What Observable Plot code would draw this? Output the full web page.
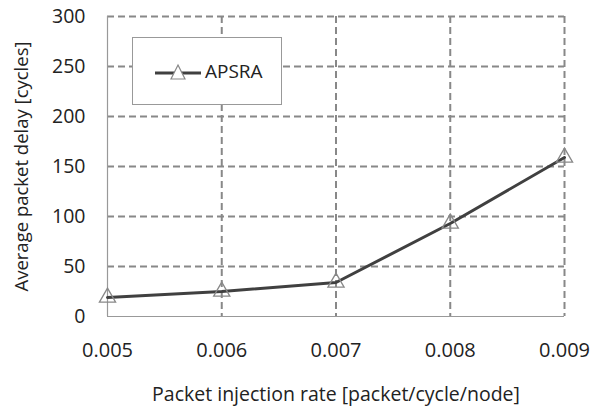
<!DOCTYPE html>
<html><head><meta charset="utf-8">
<script src="https://cdn.jsdelivr.net/npm/d3@7"></script>
<script src="https://cdn.jsdelivr.net/npm/@observablehq/plot@0.6"></script>
<style>
body{margin:0;background:#fff;}
#wrap{position:relative;width:598px;height:407px;font-family:"Open Sans",sans-serif;}
#legend{position:absolute;left:132px;top:37px;width:150px;height:68px;border:1px solid #999;background:#fff;box-sizing:border-box;}
#legend svg{position:absolute;left:22px;top:24px;}
#legend span{position:absolute;left:72px;top:20px;font-size:19px;line-height:26px;color:#222;}
</style></head>
<body><div id="wrap"><div id="chart"></div>
<div id="legend"><svg width="50" height="22"><line x1="0" y1="11" x2="46" y2="11" stroke="#404040" stroke-width="3"/><path d="M23,3 L30,17 L16,17 Z" fill="white" stroke="#888" stroke-width="1.2"/></svg><span>APSRA</span></div>
</div>
<script>
const rates = [0.005, 0.006, 0.007, 0.008, 0.009];
const delays = [19, 25, 34, 93, 159];
const yTicks = [0, 50, 100, 150, 200, 250, 300];
const seriesName = "APSRA";
const data = rates.map((r, i) => ({rate: r, delay: delays[i], series: seriesName}));

const chart = Plot.plot({
  width: 598, height: 407,
  marginLeft: 107, marginRight: 34, marginTop: 16, marginBottom: 91,
  style: {fontFamily: "Open Sans, sans-serif", fontSize: "19px", color: "#222", background: "white"},
  x: {domain: [0.005, 0.009]},
  y: {domain: [0, 300]},
  marks: [
    Plot.ruleY(yTicks.filter(d => d > 0), {stroke: "#888", strokeWidth: 2, strokeDasharray: "7,4"}),
    Plot.ruleX(rates.filter(d => d > 0.005), {stroke: "#888", strokeWidth: 2, strokeDasharray: "7,4"}),
    Plot.ruleY([0], {stroke: "#999", strokeWidth: 1.2}),
    Plot.ruleX([0.005], {stroke: "#999", strokeWidth: 1.2}),
    Plot.axisY({ticks: yTicks, tickSize: 0, tickPadding: 22, label: null, fontSize: 19.5}),
    Plot.axisX({ticks: rates, tickFormat: d3.format(".3f"), tickSize: 0, tickPadding: 26, label: null, fontSize: 20}),
    Plot.text(["Average packet delay [cycles]"], {frameAnchor: "left", textAnchor: "middle", dx: -85, rotate: -90, fontSize: 18.5}),
    Plot.text(["Packet injection rate [packet/cycle/node]"], {frameAnchor: "bottom", dy: 84, fontSize: 19.5}),
    Plot.line(data, {x: "rate", y: "delay", stroke: "#404040", strokeWidth: 3}),
    Plot.dot(data, {x: "rate", y: "delay", symbol: "triangle", r: 6, fill: "white", fillOpacity: 0, stroke: "#888", strokeWidth: 1.3})
  ]
});
document.getElementById("chart").appendChild(chart);
</script>
</body></html>
